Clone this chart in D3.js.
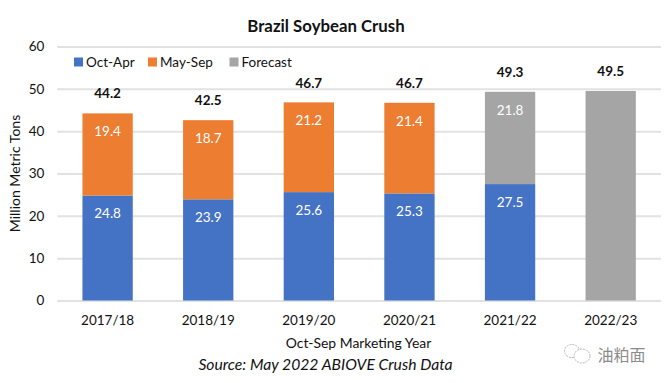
<!DOCTYPE html>
<html lang="en">
<head>
  <meta charset="UTF-8">
  <title>Brazil Soybean Crush</title>
  <script src="https://d3js.org/d3.v7.min.js"></script>
  <style>
    html, body { margin: 0; padding: 0; background: #fff; }
    svg { display: block; }
    text { font-family: Lato, "Open Sans", sans-serif; fill: #111; }
    .axis path { display: none; }
    .axis .tick line { stroke: #e2e2e2; stroke-width: 2px; }
    .axis text { font-size: 13.5px; }
  </style>
</head>
<body>
  <svg width="666" height="383"></svg>

  <script>
    // Values
    const years = ["2017/18", "2018/19", "2019/20", "2020/21", "2021/22", "2022/23"];
    const octApr = [24.8, 23.9, 25.6, 25.3, 27.5, 0];
    const maySep = [19.4, 18.7, 21.2, 21.4, 0, 0];
    const forecast = [0, 0, 0, 0, 21.8, 49.5];
    const totals = [44.2, 42.5, 46.7, 46.7, 49.3, 49.5];
    const yTicks = [0, 10, 20, 30, 40, 50, 60];

    const seriesNames = ["Oct-Apr", "May-Sep", "Forecast"];
    const seriesColors = ["#4472c4", "#ed7d31", "#a5a5a5"];

    const svg = d3.select("svg");

    const x = d3.scaleBand()
      .domain(years)
      .range([57.3, 661])
      .paddingInner(0.5)
      .paddingOuter(0.25);

    const y = d3.scaleLinear()
      .domain([0, 60])
      .range([300.5, 46.5]);

    // Gridlines come from the y axis ticks
    svg.append("g")
      .attr("class", "axis")
      .attr("transform", "translate(57.3,0)")
      .call(d3.axisLeft(y).tickValues(yTicks).tickSize(-603.7).tickPadding(13))
      .selectAll("text")
      .attr("dy", "0.33em");

    // Baseline sits on top of the 0 gridline, x labels below it
    svg.append("g")
      .attr("class", "axis")
      .attr("transform", "translate(0,300.5)")
      .call(d3.axisBottom(x).tickSize(0).tickPadding(15));

    // Stacked bars
    const table = years.map((year, i) => ({
      year: year,
      "Oct-Apr": octApr[i],
      "May-Sep": maySep[i],
      "Forecast": forecast[i]
    }));
    const stacked = d3.stack().keys(seriesNames)(table);

    const groups = svg.selectAll(".series")
      .data(stacked)
      .join("g")
      .attr("class", "series")
      .attr("fill", (d, i) => seriesColors[i]);

    groups.selectAll("rect")
      .data(d => d.filter(p => p[1] > p[0]))
      .join("rect")
      .attr("x", d => x(d.data.year))
      .attr("y", d => y(d[1]))
      .attr("width", x.bandwidth())
      .attr("height", d => y(d[0]) - y(d[1]));

    // White labels inside the top of each segment (none on the 2022/23 bar)
    groups.selectAll("text")
      .data(d => d.filter(p => p[1] > p[0] && p.data.year !== "2022/23"))
      .join("text")
      .attr("x", d => x(d.data.year) + x.bandwidth() / 2)
      .attr("y", d => y(d[1]) + 18)
      .attr("dy", "0.35em")
      .attr("text-anchor", "middle")
      .attr("font-size", "13.5px")
      .style("fill", "#fff")
      .text(d => (d[1] - d[0]).toFixed(1));

    // Totals above the bars
    svg.selectAll(".total")
      .data(totals)
      .join("text")
      .attr("class", "total")
      .attr("x", (d, i) => x(years[i]) + x.bandwidth() / 2)
      .attr("y", d => y(d) - 20)
      .attr("dy", "0.35em")
      .attr("text-anchor", "middle")
      .attr("font-size", "13.5px")
      .attr("font-weight", "700")
      .text(d => d.toFixed(1));

    // Legend
    const legendX = [74, 148, 229.5];
    const legend = svg.selectAll(".legend")
      .data(seriesNames)
      .join("g")
      .attr("class", "legend")
      .attr("transform", (d, i) => `translate(${legendX[i]},57.5)`);
    legend.append("rect")
      .attr("width", 9)
      .attr("height", 9)
      .attr("fill", (d, i) => seriesColors[i]);
    legend.append("text")
      .attr("x", 12)
      .attr("y", 4.5)
      .attr("dy", "0.35em")
      .attr("font-size", "13.5px")
      .text(d => d);

    // Titles
    svg.append("text")
      .attr("x", 326).attr("y", 32)
      .attr("text-anchor", "middle")
      .attr("font-size", "16.8px")
      .attr("font-weight", "700")
      .text("Brazil Soybean Crush");

    svg.append("text")
      .attr("transform", "translate(19.5,173.5) rotate(-90)")
      .attr("text-anchor", "middle")
      .attr("font-size", "14px")
      .text("Million Metric Tons");

    svg.append("text")
      .attr("x", 358.5).attr("y", 347.5)
      .attr("text-anchor", "middle")
      .attr("font-size", "13.9px")
      .text("Oct-Sep Marketing Year");

    svg.append("text")
      .attr("x", 325.5).attr("y", 370)
      .attr("text-anchor", "middle")
      .attr("font-size", "15.7px")
      .attr("font-style", "italic")
      .text("Source: May 2022 ABIOVE Crush Data");

    // Watermark
    const mark = svg.append("g")
      .attr("fill", "#fff")
      .attr("stroke", "#b5b5b5")
      .attr("stroke-width", 1)
      .attr("stroke-dasharray", "2 1");
    mark.append("ellipse").attr("cx", 572).attr("cy", 351).attr("rx", 7.5).attr("ry", 6.5);
    mark.append("ellipse").attr("cx", 582).attr("cy", 356).attr("rx", 8).attr("ry", 7);

    svg.append("text")
      .attr("x", 597.5).attr("y", 360.5)
      .attr("font-size", "16px")
      .style("font-family", '"Noto Sans CJK SC"')
      .style("fill", "#8c8c8c")
      .text("油粕面");
  </script>
</body>
</html>
